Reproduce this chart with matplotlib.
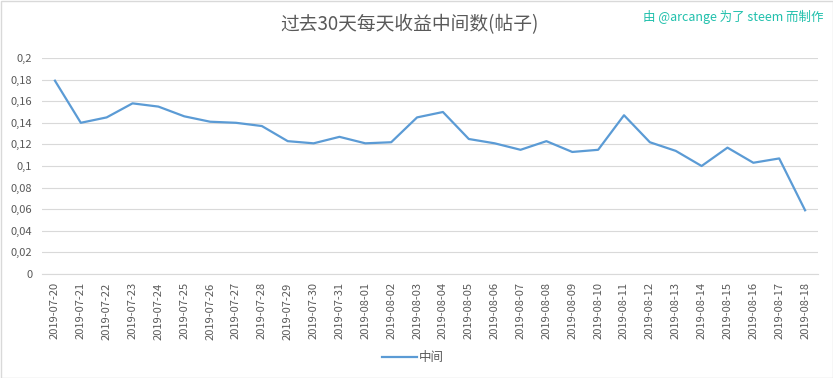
import matplotlib.pyplot as plt
from matplotlib.patches import Rectangle
from matplotlib.lines import Line2D

plt.rcParams['font.family'] = ['Noto Sans CJK SC', 'DejaVu Sans']

dates = ['2019-07-20', '2019-07-21', '2019-07-22', '2019-07-23', '2019-07-24',
         '2019-07-25', '2019-07-26', '2019-07-27', '2019-07-28', '2019-07-29',
         '2019-07-30', '2019-07-31', '2019-08-01', '2019-08-02', '2019-08-03',
         '2019-08-04', '2019-08-05', '2019-08-06', '2019-08-07', '2019-08-08',
         '2019-08-09', '2019-08-10', '2019-08-11', '2019-08-12', '2019-08-13',
         '2019-08-14', '2019-08-15', '2019-08-16', '2019-08-17', '2019-08-18']
median = [0.179, 0.140, 0.145, 0.158, 0.155, 0.146, 0.141, 0.140, 0.137, 0.123,
          0.121, 0.127, 0.121, 0.122, 0.145, 0.150, 0.125, 0.121, 0.115, 0.123,
          0.113, 0.115, 0.147, 0.122, 0.114, 0.100, 0.117, 0.103, 0.107, 0.059]
yticks = [0, 0.02, 0.04, 0.06, 0.08, 0.1, 0.12, 0.14, 0.16, 0.18, 0.2]
ylabels = ['0', '0,02', '0,04', '0,06', '0,08', '0,1', '0,12', '0,14', '0,16', '0,18', '0,2']

W, H = 833, 378
fig = plt.figure(figsize=(W / 100, H / 100), dpi=100)
ax = fig.add_axes([42 / W, 1 - 274 / H, (818 - 42) / W, (274 - 58) / H])

x = list(range(len(dates)))
ax.plot(x, median, color='#5B9BD5', lw=1.6, solid_joinstyle='round')

ax.set_xlim(-0.5, len(dates) - 0.5)
ax.set_ylim(0, 0.2)
ax.set_yticks(yticks)
ax.set_yticklabels(ylabels)
ax.set_xticks(x)
ax.set_xticklabels(dates, rotation=90)
ax.tick_params(axis='both', length=0, colors='#595959', labelsize=8)
ax.tick_params(axis='y', pad=7)
ax.tick_params(axis='x', pad=6)
ax.grid(axis='y', color='#D9D9D9', lw=0.8)
ax.set_axisbelow(True)
for s in ['top', 'right', 'left']:
    ax.spines[s].set_visible(False)
ax.spines['bottom'].set_color('#D9D9D9')
ax.spines['bottom'].set_linewidth(0.8)

fig.text(410 / W, 1 - 25 / H, '过去30天每天收益中间数(帖子)', ha='center', va='center',
         fontsize=13.5, color='#595959')
fig.text(733 / W, 1 - 17 / H, '由 @arcange 为了 steem 而制作', ha='center', va='center',
         fontsize=9, color='#20C0AC')

fig.legend([Line2D([], [], color='#5B9BD5', lw=1.6)], ['中间'],
           loc='center', bbox_to_anchor=(413 / W, 1 - 358 / H), frameon=False,
           fontsize=9, labelcolor='#595959', handlelength=2.8, handletextpad=0.1)

fig.patches.append(Rectangle((0.5 / W, 0.5 / H), 1 - 1 / W, 1 - 1 / H,
                             transform=fig.transFigure, fill=False,
                             edgecolor='#D9D9D9', lw=1))

fig.savefig('out.png', dpi=100, facecolor='white')
